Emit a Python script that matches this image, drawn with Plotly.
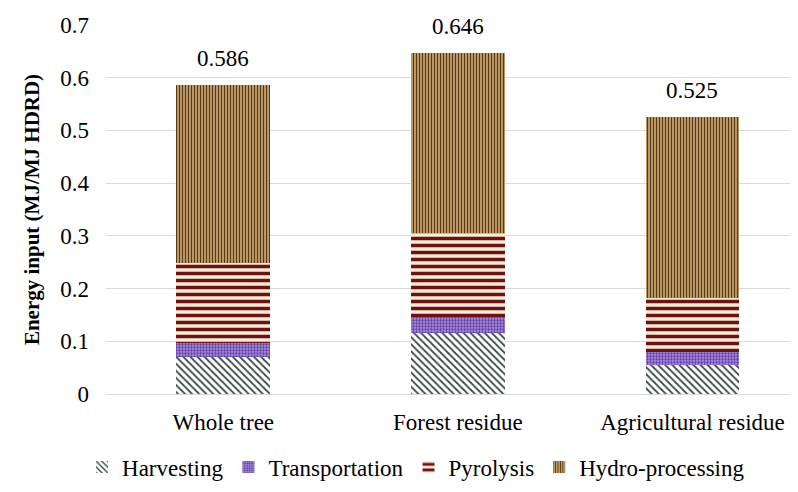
import plotly.graph_objects as go

# feedstocks and energy inputs (MJ/MJ HDRD)
feedstocks = ["Whole tree", "Forest residue", "Agricultural residue"]
harvesting = [0.070, 0.116, 0.055]
transportation = [0.027, 0.030, 0.025]
pyrolysis = [0.152, 0.159, 0.102]
hydro_processing = [0.337, 0.341, 0.343]
totals = [0.586, 0.646, 0.525]
y_ticks = [0, 0.1, 0.2, 0.3, 0.4, 0.5, 0.6, 0.7]
y_ticktext = ["0", "0.1", "0.2", "0.3", "0.4", "0.5", "0.6", "0.7"]

serif = "Liberation Serif"

# name, values, pattern shape, fg, bg, size, solidity
stages = [
    ("Harvesting", harvesting, "\\", "#3b4a42", "#ffffff", 5, 0.35),
    ("Transportation", transportation, ".", "#5a3d9c", "#a88ce0", 3, 0.45),
    ("Pyrolysis", pyrolysis, "-", "#6e1111", "#f7ebda", 7, 0.5),
    ("Hydro-processing", hydro_processing, "|", "#5a381a", "#d8b77c", 3, 0.5),
]

fig = go.Figure()
for name, vals, shape, fg, bg, size, sol in stages:
    fig.add_trace(go.Bar(
        x=feedstocks, y=vals, name=name, width=0.4,
        marker=dict(
            color=bg, line_width=0,
            pattern=dict(shape=shape, fgcolor=fg, bgcolor=bg, size=size,
                         solidity=sol, fillmode="replace"),
        ),
    ))

# total labels above the bars
for f, t in zip(feedstocks, totals):
    fig.add_annotation(x=f, y=t, text=f"{t:.3f}", showarrow=False,
                       yanchor="bottom", yshift=12,
                       font=dict(family=serif, size=23, color="black"))

# page body adds an 8px margin, so the figure is 8px smaller than the window
fig.update_layout(
    barmode="stack",
    width=790, height=484,
    margin=dict(l=98, r=0, t=17, b=98),
    plot_bgcolor="white", paper_bgcolor="white",
    font=dict(family=serif, size=23, color="black"),
    legend=dict(orientation="h", x=0.448, xanchor="center", y=-0.14,
                yanchor="top", font=dict(size=23), itemwidth=30,
                traceorder="normal"),
    showlegend=True,
)
fig.update_xaxes(range=[-0.5, 2.45], showgrid=False, showline=False,
                 ticks="", ticklabelstandoff=12, tickfont=dict(size=23),
                 automargin=False)
fig.update_yaxes(range=[0, 0.7], tickvals=y_ticks, ticktext=y_ticktext,
                 showgrid=True, gridcolor="#d9d9d9", gridwidth=1,
                 zeroline=True, zerolinecolor="#d9d9d9", zerolinewidth=1,
                 showline=False, ticks="", ticklabelstandoff=16,
                 tickfont=dict(size=23), automargin=False,
                 title=dict(text="<b>Energy input (MJ/MJ HDRD)</b>",
                            font=dict(size=21), standoff=14))

fig.write_html("out.html")
